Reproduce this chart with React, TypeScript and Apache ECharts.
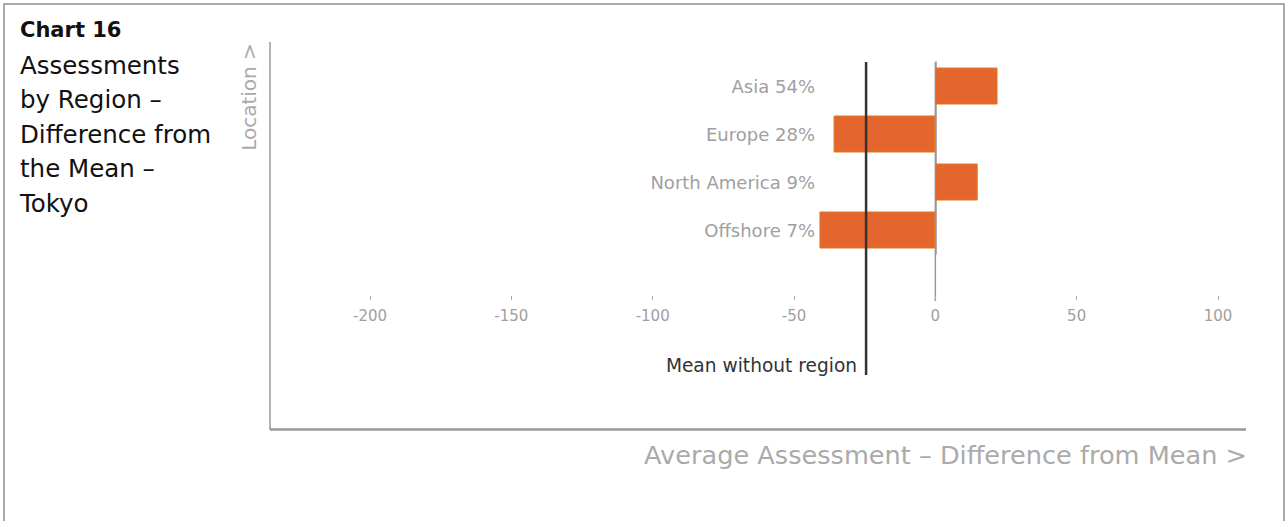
import React, { useEffect, useRef } from "react";
import * as echarts from "echarts";

const categories = ["Asia 54%", "Europe 28%", "North America 9%", "Offshore 7%"];
const differences = [22, -36, 15, -41];
const meanWithoutRegion = -24.5;
const xMin = -200;
const xMax = 100;
const xInterval = 50;
const chartTitle = "Chart 16";
const titleLines = ["Assessments", "by Region –", "Difference from", "the Mean –", "Tokyo"];
const xAxisName = "Average Assessment – Difference from Mean >";
const yAxisName = "Location >";
const meanLabel = "Mean without region";

const FONT = "'DejaVu Sans', 'Noto Sans', sans-serif";

export default function App() {
  const ref = useRef<HTMLDivElement>(null);
  useEffect(() => {
    const chart = echarts.init(ref.current!, null, { renderer: "svg" });
    chart.setOption({
      animation: false,
      grid: { left: 370, width: 848, top: 62, height: 192 },
      xAxis: {
        type: "value",
        min: xMin,
        max: xMax,
        interval: xInterval,
        offset: 42,
        axisLine: { show: false },
        axisTick: { show: true, length: 4, lineStyle: { color: "#aaa" } },
        splitLine: { show: false },
        axisLabel: { color: "#a0a0a0", fontSize: 15, margin: 12, fontFamily: FONT },
      },
      yAxis: {
        type: "category",
        data: categories,
        inverse: true,
        axisLine: { show: true, onZero: true, lineStyle: { color: "#999", width: 1.5 } },
        axisTick: { show: false },
        axisLabel: { margin: -445, color: "#a0a0a0", fontSize: 18, fontFamily: FONT },
      },
      series: [
        {
          type: "bar",
          data: differences,
          barWidth: 37,
          itemStyle: { color: "#E5652F", borderColor: "#E07A1C", borderWidth: 1 },
        },
      ],
    });
    const x0 = chart.convertToPixel({ xAxisIndex: 0 }, 0) as number;
    const xm = chart.convertToPixel({ xAxisIndex: 0 }, meanWithoutRegion) as number;
    const txt = (text: string, x: number, y: number, size: number, fill: string, align = "left", weight = "normal", extra: any = {}) => ({
      type: "text",
      x,
      y,
      ...extra,
      style: {
        text,
        fill,
        fontSize: size,
        fontFamily: FONT,
        fontWeight: weight,
        align,
        textAlign: align,
        verticalAlign: "middle",
        textVerticalAlign: "middle",
      },
    });
    chart.setOption({
      graphic: [
        { type: "rect", shape: { x: 4, y: 4, width: 1280, height: 600 }, style: { fill: "none", stroke: "#aaa", lineWidth: 2 } },
        txt(chartTitle, 20, 30, 21, "#111", "left", "bold"),
        ...titleLines.map((t, i) => txt(t, 20, 65 + i * 34.5, 24.5, "#111")),
        { type: "line", shape: { x1: 270, y1: 42, x2: 270, y2: 430 }, style: { stroke: "#999", lineWidth: 1.5 } },
        { type: "line", shape: { x1: 270, y1: 429.5, x2: 1246, y2: 429.5 }, style: { stroke: "#999", lineWidth: 2.5 } },
        txt(yAxisName, 249, 97, 20, "#aaa", "center", "normal", { rotation: Math.PI / 2 }),
        txt(xAxisName, 1247, 455, 25.6, "#aaa", "right"),
        { type: "line", z: 0, shape: { x1: x0, y1: 62, x2: x0, y2: 301 }, style: { stroke: "#999", lineWidth: 1.5 } },
        { type: "line", z: 10, shape: { x1: xm, y1: 62, x2: xm, y2: 375 }, style: { stroke: "#333", lineWidth: 2.5 } },
        txt(meanLabel, xm - 9, 365, 18.6, "#333", "right"),
      ],
    });
    return () => chart.dispose();
  }, []);
  return <div ref={ref} style={{ position: "absolute", left: 0, top: 0, width: 1288, height: 521 }} />;
}
